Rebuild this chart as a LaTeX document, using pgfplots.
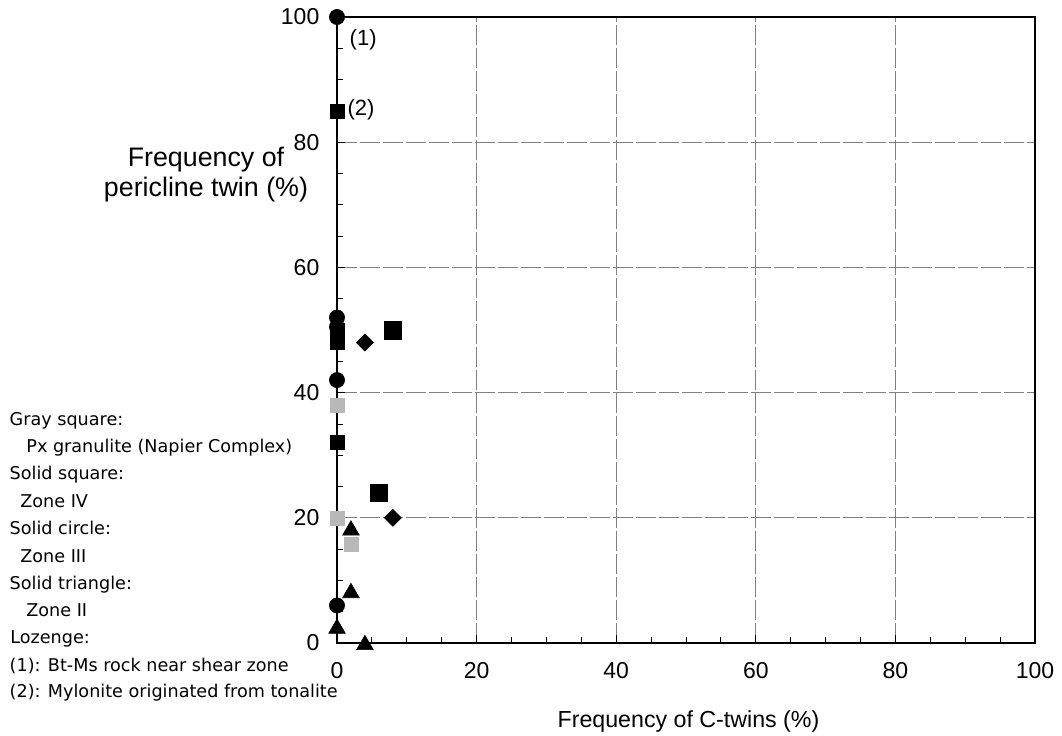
\documentclass[border=0pt]{standalone}
\usepackage{pgfplots}
\pgfplotsset{compat=1.18}
\usepackage{fontspec}
\setmainfont{Liberation Sans}
\newfontfamily\legfont{DejaVu Sans}
\definecolor{grayfill}{gray}{0.72}
\begin{document}
\begin{tikzpicture}[x=1pt,y=1pt]
\useasboundingbox (-168.5,-46) rectangle (362.5,321.5);
\begin{axis}[
  at={(0,0)}, anchor=south west, scale only axis,
  width=349pt, height=313pt,
  xmin=0, xmax=100, ymin=0, ymax=100,
  xtick={0,20,...,100}, ytick={0,20,...,100},
  minor tick num=3,
  tick align=inside,
  xtick pos=bottom, ytick pos=left,
  major tick length=4pt, minor tick length=3pt,
  major tick style={line width=0.5pt, black},
  minor tick style={line width=0.4pt, black},
  grid=major,
  major grid style={black!50, line width=0.35pt, dash pattern=on 10pt off 1.5pt},
  axis line style={line width=1pt},
  every axis/.append style={line width=1pt},
  clip=false,
  tick label style={font=\fontsize{11.5}{13}\selectfont},
  /pgf/number format/assume math mode=true,
  xticklabel style={yshift=-6pt},
  yticklabel style={xshift=-5pt},
]
% Zone III: solid circles
\addplot[only marks, mark=*, mark size=3.8pt, mark options={fill=black, draw=black, line width=0.3pt}] coordinates {
 (0,100) (0,52) (0,50.5) (0,42) (0,6)
};
% Zone IV: solid squares
\addplot[only marks, mark=square*, mark size=3.5pt, mark options={fill=black, draw=black, line width=0.3pt}] coordinates {
 (0,85) (0,50) (0,49) (0,48) (0,32)
};
\addplot[only marks, mark=square*, mark size=4.4pt, mark options={fill=black, draw=black, line width=0.3pt}] coordinates {
 (8,50) (6,24)
};
% Px granulite: gray squares
\addplot[only marks, mark=square*, mark size=3.5pt, mark options={fill=grayfill, draw=grayfill, line width=0.3pt}] coordinates {
 (0,38) (0,20) (2,15.8)
};
% Zone II: solid triangles
\addplot[only marks, mark=triangle*, mark size=4.8pt, mark options={fill=black, draw=black, line width=0.3pt}] coordinates {
 (2,18) (2,8) (0,2.3) (4,-0.3)
};
% Lozenges
\addplot[only marks, mark=square*, mark size=3pt, mark options={rotate=45, fill=black, draw=black, line width=0.3pt}] coordinates {
 (4,48) (8,20)
};
\node[font=\fontsize{11}{13}\selectfont] at (axis cs:3.75,96.3) {(1)};
\node[font=\fontsize{11}{13}\selectfont] at (axis cs:3.45,85.1) {(2)};
\end{axis}
\node[font=\fontsize{11.6}{13}\selectfont, anchor=base] at (175.75,-42) {Frequency of C-twins (\%)};
\node[font=\fontsize{13.4}{15}\selectfont, align=center] at (-65.5,234) {Frequency of\\pericline twin (\%)};
\begin{scope}[every node/.style={inner sep=0pt, anchor=base west, font=\legfont\fontsize{8.8}{10}\selectfont}]
\node at (-163.85,109) {Gray square:};
\node at (-155.5,95.15) {Px granulite (Napier Complex)};
\node at (-163.85,81.5) {Solid square:};
\node at (-158.5,68) {Zone IV};
\node at (-163.85,54.5) {Solid circle:};
\node at (-158.5,40.5) {Zone III};
\node at (-163.85,27) {Solid triangle:};
\node at (-155.5,13.5) {Zone II};
\node at (-163.5,0) {Lozenge:};
\node at (-163.85,-14) {(1): Bt-Ms rock near shear zone};
\node at (-163.85,-27) {(2): Mylonite originated from tonalite};
\end{scope}
\end{tikzpicture}
\end{document}
